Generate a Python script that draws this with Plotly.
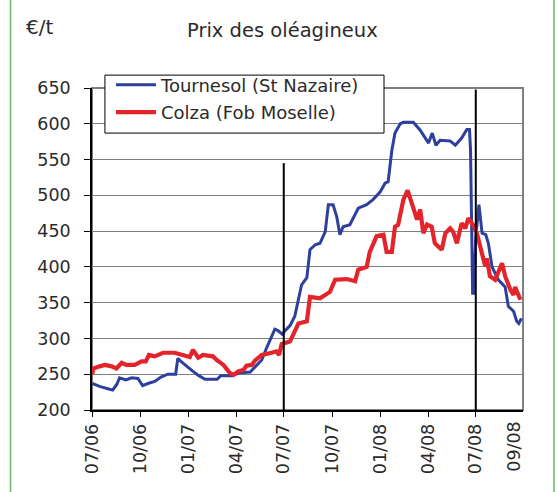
import plotly.graph_objects as go

# ---- data ----
tournesol_dates = [
    "2006-07-01", "2006-07-15", "2006-08-03", "2006-08-09", "2006-08-17", "2006-08-22",
    "2006-09-03", "2006-09-14", "2006-09-26", "2006-10-05", "2006-10-15", "2006-10-28",
    "2006-11-09", "2006-11-22", "2006-12-07", "2006-12-11", "2006-12-17", "2006-12-28",
    "2007-01-09", "2007-01-20", "2007-02-01", "2007-02-24", "2007-03-03", "2007-03-24",
    "2007-04-08", "2007-04-28", "2007-05-11", "2007-05-20", "2007-05-30", "2007-06-08",
    "2007-06-14", "2007-06-20", "2007-06-28", "2007-07-05", "2007-07-13", "2007-07-22",
    "2007-07-28", "2007-08-04", "2007-08-14", "2007-08-20", "2007-08-30", "2007-09-08",
    "2007-09-18", "2007-09-24", "2007-10-03", "2007-10-10", "2007-10-16", "2007-10-22",
    "2007-11-04", "2007-11-20", "2007-12-06", "2007-12-18", "2008-01-01", "2008-01-10",
    "2008-01-16", "2008-01-23", "2008-01-29", "2008-02-08", "2008-02-14", "2008-03-04",
    "2008-03-17", "2008-04-02", "2008-04-09", "2008-04-16", "2008-04-24", "2008-05-13",
    "2008-05-23", "2008-06-04", "2008-06-14", "2008-06-19", "2008-06-21", "2008-06-23",
    "2008-06-25", "2008-06-27", "2008-07-01", "2008-07-07", "2008-07-13", "2008-07-20",
    "2008-07-25", "2008-08-01", "2008-08-13", "2008-08-26", "2008-09-01", "2008-09-11",
    "2008-09-17", "2008-09-21", "2008-09-26",
]
tournesol_values = [
    237, 233, 229, 228, 236, 245,
    242, 245, 244, 234, 237, 240,
    246, 250, 250, 272, 268, 261,
    254, 248, 243, 243, 248, 248,
    252, 253, 263, 270, 288, 303,
    313, 311, 306, 312, 318, 331,
    350, 375, 385, 424, 431, 433,
    449, 487, 487, 470, 445, 456,
    459, 482, 487, 494, 505, 517,
    519, 563, 587, 600, 602, 602,
    591, 573, 587, 570, 577, 576,
    570, 580, 592, 592, 563, 442,
    363, 363, 442, 487, 447, 445,
    433, 400, 382, 372, 345, 338,
    324, 321, 328,
]

colza_dates = [
    "2006-07-01", "2006-07-03", "2006-07-15", "2006-07-25", "2006-08-07", "2006-08-16",
    "2006-08-26", "2006-09-04", "2006-09-20", "2006-10-03", "2006-10-11", "2006-10-17",
    "2006-10-28", "2006-11-13", "2006-12-05", "2006-12-15", "2006-12-24", "2007-01-03",
    "2007-01-09", "2007-01-19", "2007-01-28", "2007-02-16", "2007-02-23", "2007-03-08",
    "2007-03-20", "2007-03-27", "2007-04-05", "2007-04-15", "2007-04-21", "2007-05-01",
    "2007-05-07", "2007-05-20", "2007-06-08", "2007-06-17", "2007-06-22", "2007-06-27",
    "2007-07-13", "2007-07-29", "2007-08-14", "2007-08-20", "2007-09-08", "2007-09-27",
    "2007-10-07", "2007-10-29", "2007-11-14", "2007-11-20", "2007-12-06", "2007-12-12",
    "2007-12-25", "2008-01-07", "2008-01-13", "2008-01-23", "2008-01-29", "2008-02-04",
    "2008-02-14", "2008-02-22", "2008-03-01", "2008-03-11", "2008-03-17", "2008-03-23",
    "2008-03-30", "2008-04-08", "2008-04-14", "2008-04-27", "2008-05-04", "2008-05-13",
    "2008-05-19", "2008-05-26", "2008-06-04", "2008-06-11", "2008-06-17", "2008-06-23",
    "2008-06-27", "2008-07-03", "2008-07-13", "2008-07-19", "2008-07-22", "2008-07-28",
    "2008-08-07", "2008-08-20", "2008-08-26", "2008-09-05", "2008-09-11", "2008-09-14",
    "2008-09-24",
]
colza_values = [
    250, 258, 261, 263, 261, 258,
    266, 263, 263, 268, 268, 277,
    275, 280, 280, 278, 275, 274,
    284, 273, 277, 275, 270, 263,
    252, 249, 254, 256, 262, 263,
    269, 277, 280, 282, 277, 292,
    296, 321, 324, 358, 356, 365,
    382, 383, 380, 396, 400, 421,
    443, 445, 421, 421, 456, 459,
    494, 507, 489, 466, 480, 447,
    459, 456, 433, 424, 447, 454,
    449, 433, 461, 454, 468, 461,
    457, 447, 415, 401, 412, 387,
    382, 405, 387, 368, 361, 372,
    354,
]

tick_dates = ["2006-07-01", "2006-10-01", "2007-01-01", "2007-04-01", "2007-07-01",
              "2007-10-01", "2008-01-01", "2008-04-01", "2008-07-01"]
tick_labels = ["07/06", "10/06", "01/07", "04/07", "07/07", "10/07", "01/08", "04/08", "07/08"]
extra_label_date = "2008-09-12"
extra_label = "09/08"
marker_dates = ["2007-07-01", "2008-07-01"]
marker_tops = [545, 648]

FONT = "DejaVu Sans"
TXT = "#2b2b2b"

fig = go.Figure()
fig.add_trace(go.Scatter(x=tournesol_dates, y=tournesol_values, mode="lines",
                         name="Tournesol (St Nazaire)", legendgroup="a",
                         line=dict(color="#2E3F9E", width=3)))
fig.add_trace(go.Scatter(x=colza_dates, y=colza_values, mode="lines",
                         name="Colza (Fob Moselle)", legendgroup="b",
                         line=dict(color="#E3242B", width=4.2)))

shapes = []
shapes.append(dict(type="rect", xref="paper", yref="paper", x0=0, x1=1, y0=0, y1=1,
                   line=dict(color="#808080", width=2), layer="below"))
for d, top in zip(marker_dates, marker_tops):
    shapes.append(dict(type="line", xref="x", yref="y", x0=d, x1=d, y0=200, y1=top,
                       line=dict(color="black", width=2)))
for xp in [-0.189, 1.072]:
    shapes.append(dict(type="line", xref="paper", yref="paper", x0=xp, x1=xp, y0=-0.5, y1=1.5,
                       line=dict(color="#6DB56D", width=1.5)))
# legend frame
shapes.append(dict(type="rect", xref="paper", yref="paper", x0=0.030, x1=0.6775,
                   y0=0.860, y1=1.040, fillcolor="white",
                   line=dict(color="black", width=1), layer="above"))

fig.update_layout(
    width=557, height=492,
    margin=dict(l=92, r=34, t=88, b=82),
    paper_bgcolor="white", plot_bgcolor="white",
    font=dict(family=FONT, size=17.5, color=TXT),
    showlegend=True,
    legend=dict(x=0.044, y=1.067, xanchor="left", yanchor="top",
                bgcolor="rgba(0,0,0,0)", borderwidth=0,
                font=dict(family=FONT, size=18, color=TXT),
                tracegroupgap=1, itemwidth=40),
    shapes=shapes,
    annotations=[
        dict(text="Prix des oléagineux", xref="paper", yref="paper", x=(282 - 92) / 431,
             y=(410 - 31) / 322, xanchor="center", yanchor="middle", showarrow=False,
             font=dict(family=FONT, size=19.5, color=TXT)),
        dict(text="€/t", xref="paper", yref="paper", x=(24 - 92) / 431, y=(410 - 27) / 322,
             xanchor="left", yanchor="middle", showarrow=False,
             font=dict(family=FONT, size=20, color=TXT)),
        dict(text=extra_label, xref="x", yref="paper", x=extra_label_date, y=-0.03,
             xanchor="center", yanchor="top", textangle=-90, showarrow=False,
             font=dict(family=FONT, size=17.5, color=TXT)),
    ],
)
fig.update_xaxes(type="date", range=["2006-06-30 12:00", "2008-09-29"],
                 tickvals=tick_dates, ticktext=tick_labels, tickangle=-90,
                 ticks="outside", ticklen=5, tickcolor="black", tickwidth=1,
                 showline=True, linecolor="black", linewidth=1.5,
                 showgrid=False, zeroline=False)
fig.update_yaxes(range=[200, 650], dtick=50, tick0=200,
                 ticks="outside", ticklen=6, tickcolor="black", tickwidth=1,
                 ticklabelstandoff=10,
                 showline=True, linecolor="black", linewidth=1.5,
                 showgrid=True, gridcolor="#808080", gridwidth=1, zeroline=False)

fig.write_html("out.html", config={"displayModeBar": False},
               post_script="document.body.style.margin='0';")
